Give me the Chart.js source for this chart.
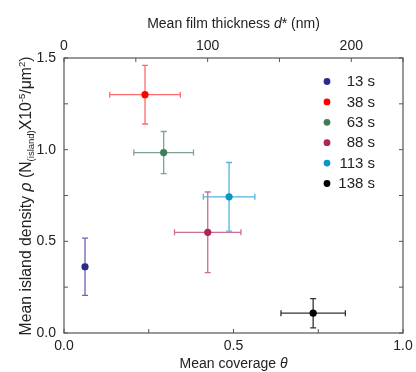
<!DOCTYPE html>
<html>
<head>
<meta charset="utf-8">
<script src="https://cdn.jsdelivr.net/npm/chart.js@4.4.0/dist/chart.umd.min.js"></script>
<style>
  html, body { margin: 0; padding: 0; background: #fff; }
  #wrap { width: 416px; height: 372px; }
</style>
</head>
<body>
<div id="wrap"><canvas id="c" width="416" height="372"></canvas></div>
<script>
// ---- data ----
const seriesLabels = ['13 s', '38 s', '63 s', '88 s', '113 s', '138 s'];
const coverage      = [0.062, 0.239, 0.294, 0.424, 0.487, 0.735];
const coverageErr   = [0.006, 0.104, 0.088, 0.098, 0.076, 0.095];
const density       = [0.361, 1.300, 0.984, 0.549, 0.743, 0.108];
const densityErr    = [0.156, 0.160, 0.115, 0.220, 0.187, 0.080];
const markerColors  = ['#2e2a8a', '#ff0000', '#3e7d5c', '#b0245c', '#0a97c8', '#000000'];
const errColors     = ['#6b63b5', '#ff6b6b', '#7ea38f', '#cc6d92', '#4fb8da', '#333333'];
const bottomTicks   = [0.0, 0.5, 1.0];
const leftTicks     = [0.0, 0.5, 1.0, 1.5];
const topTicks      = [0, 100, 200];
const topMax = 236;

const FONT = '"Liberation Sans", Arial, Helvetica, sans-serif';
const AXIS_COLOR = '#555';

const datasets = seriesLabels.map((lab, i) => ({
  label: lab,
  data: [{ x: coverage[i], y: density[i], xe: coverageErr[i], ye: densityErr[i] }],
  backgroundColor: markerColors[i],
  borderColor: markerColors[i],
  errColor: errColors[i],
  pointRadius: 3.6,
  pointHoverRadius: 3.6,
  pointBorderWidth: 0,
  xAxisID: 'x',
  yAxisID: 'y'
}));

function isMajor(v, list) { return list.some(t => Math.abs(t - v) < 1e-6); }

const errorBars = {
  id: 'errorBars',
  beforeDatasetsDraw(chart) {
    const ctx = chart.ctx, xs = chart.scales.x, ys = chart.scales.y;
    ctx.save();
    ctx.lineWidth = 1.3;
    chart.data.datasets.forEach(ds => {
      ctx.strokeStyle = ds.errColor;
      ds.data.forEach(p => {
        const cx = xs.getPixelForValue(p.x), cy = ys.getPixelForValue(p.y);
        const x0 = xs.getPixelForValue(p.x - p.xe), x1 = xs.getPixelForValue(p.x + p.xe);
        const y0 = ys.getPixelForValue(p.y - p.ye), y1 = ys.getPixelForValue(p.y + p.ye);
        const cap = 3;
        ctx.beginPath();
        ctx.moveTo(x0, cy); ctx.lineTo(x1, cy);
        ctx.moveTo(x0, cy - cap); ctx.lineTo(x0, cy + cap);
        ctx.moveTo(x1, cy - cap); ctx.lineTo(x1, cy + cap);
        ctx.moveTo(cx, y0); ctx.lineTo(cx, y1);
        ctx.moveTo(cx - cap, y0); ctx.lineTo(cx + cap, y0);
        ctx.moveTo(cx - cap, y1); ctx.lineTo(cx + cap, y1);
        ctx.stroke();
      });
    });
    ctx.restore();
  }
};

function drawSegments(ctx, segs, x, y, align) {
  let total = 0;
  segs.forEach(s => { ctx.font = s.font; s.w = ctx.measureText(s.t).width; total += s.w; });
  let cx = align === 'center' ? x - total / 2 : x;
  segs.forEach(s => {
    ctx.font = s.font;
    ctx.fillText(s.t, cx, y + (s.dy || 0));
    cx += s.w;
  });
}

const frameAndText = {
  id: 'frameAndText',
  afterDraw(chart) {
    const ctx = chart.ctx, a = chart.chartArea;
    const xs = chart.scales.x, ys = chart.scales.y, xt = chart.scales.x2;
    ctx.save();
    ctx.strokeStyle = AXIS_COLOR;
    ctx.lineWidth = 1.2;
    ctx.strokeRect(a.left, a.top, a.right - a.left, a.bottom - a.top);
    ctx.lineWidth = 1;
    const tl = 4;
    ctx.beginPath();
    xs.ticks.forEach(t => {
      const px = xs.getPixelForValue(t.value);
      ctx.moveTo(px, a.bottom); ctx.lineTo(px, a.bottom - tl);
    });
    xt.ticks.forEach(t => {
      const px = xt.getPixelForValue(t.value);
      ctx.moveTo(px, a.top); ctx.lineTo(px, a.top + tl);
    });
    ys.ticks.forEach(t => {
      const py = ys.getPixelForValue(t.value);
      ctx.moveTo(a.left, py); ctx.lineTo(a.left + tl, py);
      ctx.moveTo(a.right, py); ctx.lineTo(a.right - tl, py);
    });
    ctx.stroke();

    ctx.fillStyle = '#222';
    ctx.textBaseline = 'middle';
    const cxm = (a.left + a.right) / 2;
    drawSegments(ctx, [
      { t: 'Mean coverage ', font: '14px ' + FONT },
      { t: 'θ', font: 'italic 14px ' + FONT }
    ], cxm, a.bottom + 31.5, 'center');
    drawSegments(ctx, [
      { t: 'Mean film thickness ', font: '14px ' + FONT },
      { t: 'd', font: 'italic 14px ' + FONT },
      { t: '* (nm)', font: '14px ' + FONT }
    ], cxm, a.top - 34, 'center');
    ctx.save();
    ctx.translate(a.left - 37, (a.top + a.bottom) / 2 + 0.5);
    ctx.rotate(-Math.PI / 2);
    const F = '15.8px ' + FONT, S = '9.5px ' + FONT;
    drawSegments(ctx, [
      { t: 'Mean island density ', font: F },
      { t: 'ρ', font: 'italic ' + F },
      { t: ' (N', font: F },
      { t: '(island)', font: S, dy: 4 },
      { t: 'X10', font: F },
      { t: '-5', font: S, dy: -5 },
      { t: '/μm', font: F },
      { t: '2', font: S, dy: -5 },
      { t: ')', font: F }
    ], 0, 0, 'center');
    ctx.restore();

    ctx.font = '15px ' + FONT;
    ctx.textAlign = 'right';
    chart.data.datasets.forEach((ds, i) => {
      const ly = a.top + 23.5 + i * 20.4;
      ctx.fillStyle = ds.backgroundColor;
      ctx.beginPath();
      ctx.arc(a.left + 263, ly, 3.4, 0, Math.PI * 2);
      ctx.fill();
      ctx.fillStyle = '#222';
      ctx.fillText(ds.label, a.left + 311, ly + 0.5);
    });
    ctx.restore();
  }
};

new Chart(document.getElementById('c'), {
  type: 'scatter',
  data: { datasets },
  options: {
    responsive: false,
    animation: false,
    devicePixelRatio: 1,
    layout: { padding: { top: 0, right: 13, bottom: 0, left: 0 } },
    plugins: { legend: { display: false }, tooltip: { enabled: false } },
    scales: {
      x: {
        type: 'linear', position: 'bottom', min: 0, max: 1,
        grid: { display: false, drawTicks: false },
        border: { display: false },
        ticks: {
          stepSize: 0.25, autoSkip: false, maxRotation: 0, padding: 5,
          color: '#222', font: { family: FONT, size: 14 },
          callback: v => isMajor(v, bottomTicks) ? v.toFixed(1) : ''
        },
        afterFit: s => { s.height = 39; s.paddingLeft = 0; s.paddingRight = 0; }
      },
      x2: {
        type: 'linear', position: 'top', min: 0, max: topMax,
        grid: { display: false, drawTicks: false },
        border: { display: false },
        ticks: {
          stepSize: 50, autoSkip: false, maxRotation: 0, padding: 3.5,
          color: '#222', font: { family: FONT, size: 14 },
          callback: v => isMajor(v, topTicks) ? String(v) : ''
        },
        afterFit: s => { s.height = 58; s.paddingLeft = 0; s.paddingRight = 0; }
      },
      y: {
        type: 'linear', position: 'left', min: 0, max: 1.5,
        grid: { display: false, drawTicks: false },
        border: { display: false },
        ticks: {
          stepSize: 0.25, autoSkip: false, padding: 8,
          color: '#222', font: { family: FONT, size: 14 },
          callback: v => isMajor(v, leftTicks) ? v.toFixed(1) : ''
        },
        afterFit: s => { s.width = 64; s.paddingTop = 0; s.paddingBottom = 0; }
      }
    }
  },
  plugins: [errorBars, frameAndText]
});
</script>
</body>
</html>
